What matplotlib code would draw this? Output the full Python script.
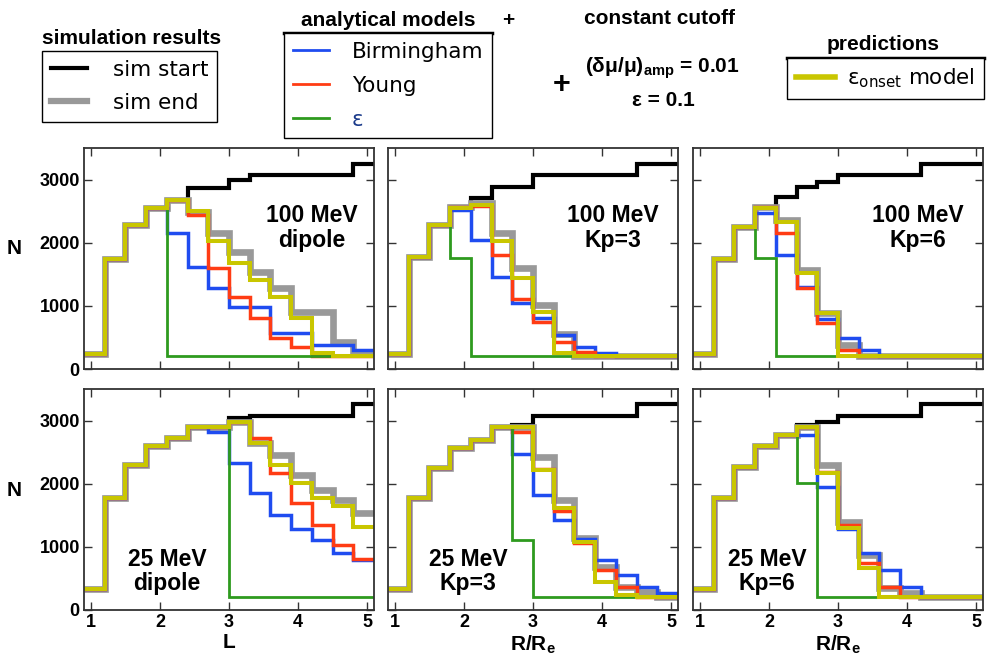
import matplotlib
matplotlib.use('Agg')
import matplotlib.pyplot as plt
from matplotlib.lines import Line2D

plt.rcParams['font.family'] = ['Liberation Sans', 'DejaVu Sans']
plt.rcParams['mathtext.fontset'] = 'custom'
plt.rcParams['mathtext.rm'] = 'DejaVu Sans'
plt.rcParams['mathtext.bf'] = 'Liberation Sans:bold'

# histogram bin edges (L or R/Re)
bin_edges = [0.9, 1.2, 1.5, 1.8, 2.1, 2.4, 2.7, 3.0, 3.3, 3.6, 3.9, 4.2, 4.5, 4.8, 5.1]

# 100 MeV dipole
start_100_dip = [230, 1750, 2280, 2550, 2680, 2870, 2870, 3000, 3080, 3080, 3080, 3080, 3080, 3250]
end_100_dip = [230, 1750, 2280, 2550, 2680, 2490, 2150, 1860, 1540, 1280, 910, 910, 430, 270]
birm_100_dip = [230, 1750, 2280, 2550, 2150, 1620, 1280, 980, 980, 565, 565, 380, 380, 300]
young_100_dip = [230, 1750, 2280, 2550, 2680, 2440, 1600, 1145, 805, 490, 350, 200, 200, 200]
eps_100_dip = [230, 1750, 2280, 2550, 200, 200, 200, 200, 200, 200, 200, 200, 200, 200]
onset_100_dip = [230, 1750, 2280, 2550, 2680, 2510, 2020, 1675, 1410, 1145, 800, 250, 200, 200]

# 100 MeV Kp=3
start_100_kp3 = [230, 1780, 2280, 2570, 2710, 2890, 2890, 3075, 3075, 3075, 3075, 3075, 3250, 3250]
end_100_kp3 = [230, 1780, 2280, 2570, 2630, 2150, 1600, 1015, 560, 200, 200, 200, 200, 200]
birm_100_kp3 = [230, 1780, 2280, 2520, 2045, 1460, 1040, 800, 540, 355, 250, 200, 200, 200]
young_100_kp3 = [230, 1780, 2280, 2570, 2580, 1805, 1110, 750, 435, 270, 200, 200, 200, 200]
eps_100_kp3 = [230, 1780, 2280, 1755, 200, 200, 200, 200, 200, 200, 200, 200, 200, 200]
onset_100_kp3 = [230, 1780, 2280, 2550, 2600, 2020, 1435, 910, 250, 200, 200, 200, 200, 200]

# 100 MeV Kp=6
start_100_kp6 = [230, 1750, 2255, 2570, 2730, 2890, 2965, 3075, 3075, 3075, 3075, 3250, 3250, 3250]
end_100_kp6 = [230, 1750, 2255, 2570, 2360, 1570, 880, 380, 200, 200, 200, 200, 200, 200]
birm_100_kp6 = [230, 1750, 2255, 2465, 1805, 1305, 790, 485, 300, 200, 200, 200, 200, 200]
young_100_kp6 = [230, 1750, 2255, 2570, 2150, 1280, 725, 300, 200, 200, 200, 200, 200, 200]
eps_100_kp6 = [230, 1750, 2255, 1755, 200, 200, 200, 200, 200, 200, 200, 200, 200, 200]
onset_100_kp6 = [230, 1750, 2255, 2545, 2335, 1515, 880, 200, 200, 200, 200, 200, 200, 200]

# 25 MeV dipole
start_25_dip = [340, 1770, 2300, 2590, 2720, 2905, 2905, 3035, 3075, 3075, 3075, 3075, 3075, 3260]
end_25_dip = [340, 1770, 2300, 2590, 2720, 2905, 2905, 2985, 2640, 2455, 2140, 1900, 1740, 1530]
birm_25_dip = [340, 1770, 2300, 2590, 2720, 2905, 2815, 2325, 1850, 1505, 1285, 1110, 900, 790]
young_25_dip = [340, 1770, 2300, 2590, 2720, 2905, 2905, 2985, 2720, 2165, 1690, 1345, 1030, 810]
eps_25_dip = [340, 1770, 2300, 2590, 2720, 2905, 2905, 210, 210, 210, 210, 210, 210, 210]
onset_25_dip = [340, 1770, 2300, 2590, 2720, 2905, 2905, 2985, 2640, 2300, 2005, 1770, 1640, 1320]

# 25 MeV Kp=3
start_25_kp3 = [340, 1770, 2245, 2560, 2695, 2905, 2930, 3080, 3080, 3080, 3080, 3080, 3265, 3265]
end_25_kp3 = [340, 1770, 2245, 2560, 2695, 2905, 2905, 2430, 1740, 1135, 685, 370, 290, 210]
birm_25_kp3 = [340, 1770, 2245, 2560, 2695, 2905, 2470, 1820, 1425, 1120, 790, 555, 370, 265]
young_25_kp3 = [340, 1770, 2245, 2560, 2695, 2905, 2825, 2230, 1560, 1055, 635, 370, 210, 210]
eps_25_kp3 = [340, 1770, 2245, 2560, 2695, 2905, 1110, 210, 210, 210, 210, 210, 210, 210]
onset_25_kp3 = [340, 1770, 2245, 2560, 2695, 2905, 2905, 2220, 1610, 1080, 450, 240, 210, 210]

# 25 MeV Kp=6
start_25_kp6 = [340, 1770, 2270, 2590, 2770, 2930, 2975, 3080, 3080, 3080, 3080, 3265, 3265, 3265]
end_25_kp6 = [340, 1770, 2270, 2590, 2770, 2905, 2300, 1400, 870, 345, 265, 210, 210, 210]
birm_25_kp6 = [340, 1770, 2270, 2590, 2770, 2770, 1955, 1285, 900, 635, 370, 210, 210, 210]
young_25_kp6 = [340, 1770, 2270, 2590, 2770, 2905, 2180, 1350, 740, 370, 210, 210, 210, 210]
eps_25_kp6 = [340, 1770, 2270, 2590, 2770, 2005, 210, 210, 210, 210, 210, 210, 210, 210]
onset_25_kp6 = [340, 1770, 2270, 2590, 2770, 2905, 2165, 1295, 660, 210, 210, 210, 210, 210]

panel_labels = ['100 MeV\ndipole', '100 MeV\nKp=3', '100 MeV\nKp=6',
                '25 MeV\ndipole', '25 MeV\nKp=3', '25 MeV\nKp=6']
x_labels = ['L', r'$\mathbf{R/R_e}$', r'$\mathbf{R/R_e}$']

panels = [
    (start_100_dip, end_100_dip, birm_100_dip, young_100_dip, eps_100_dip, onset_100_dip),
    (start_100_kp3, end_100_kp3, birm_100_kp3, young_100_kp3, eps_100_kp3, onset_100_kp3),
    (start_100_kp6, end_100_kp6, birm_100_kp6, young_100_kp6, eps_100_kp6, onset_100_kp6),
    (start_25_dip, end_25_dip, birm_25_dip, young_25_dip, eps_25_dip, onset_25_dip),
    (start_25_kp3, end_25_kp3, birm_25_kp3, young_25_kp3, eps_25_kp3, onset_25_kp3),
    (start_25_kp6, end_25_kp6, birm_25_kp6, young_25_kp6, eps_25_kp6, onset_25_kp6),
]

# color, linewidth for start, end, Birmingham, Young, eps, eps_onset
styles = [('black', 3.0), ('#999999', 4.8), ('#1f4cf0', 2.5),
          ('#ff3c14', 2.5), ('#2e9a1e', 2.0), ('#c9c600', 2.9)]

W, H = 989, 660
fig = plt.figure(figsize=(W / 100, H / 100), dpi=100)

col_left = [84, 388, 693]
row_top = [148, 389]
ax_w, ax_h = 290, 221
text_x = [0.786, 0.776, 0.776, 0.286, 0.276, 0.255]
text_y = [0.638, 0.638, 0.638, 0.174, 0.174, 0.174]

for idx, series in enumerate(panels):
    r, c = divmod(idx, 3)
    ax = fig.add_axes([col_left[c] / W, 1 - (row_top[r] + ax_h) / H, ax_w / W, ax_h / H])
    for vals, (col, lw) in zip(series, styles):
        ax.stairs(vals, bin_edges, baseline=None, color=col, linewidth=lw)
    ax.set_xlim(0.9, 5.1)
    ax.set_ylim(0, 3500)
    ax.set_xticks([1, 2, 3, 4, 5])
    ax.set_yticks([0, 1000, 2000, 3000])
    ax.tick_params(direction='in', top=True, right=True, length=6, width=1,
                   labelsize=13, pad=3, color='#333333')
    for lab in ax.get_xticklabels() + ax.get_yticklabels():
        lab.set_fontweight('bold')
    for sp in ax.spines.values():
        sp.set_linewidth(1.3)
        sp.set_color('#333333')
    if c != 0:
        ax.set_yticklabels([])
    else:
        ax.set_ylabel('N', rotation=0, fontsize=15, fontweight='bold')
        ax.yaxis.set_label_coords(-0.24, 0.5)
    if r == 0:
        ax.set_xticklabels([])
    else:
        ax.set_xlabel(x_labels[c], fontsize=15, fontweight='bold')
        ax.xaxis.set_label_coords(0.5, -0.105)
    ax.text(text_x[idx], text_y[idx], panel_labels[idx], transform=ax.transAxes,
            ha='center', va='center', fontsize=16.5, fontweight='bold', linespacing=1.1)

leg_prop = dict(family='DejaVu Sans', weight='normal', size=15.5)


def make_legend(handles, labels, x, y, spacing=0.5, hlen=1.7, hpad=1.2):
    leg = fig.legend(handles, labels, loc='upper left', bbox_to_anchor=(x / W, 1 - y / H),
                     borderaxespad=0, prop=leg_prop, handlelength=hlen, handletextpad=hpad,
                     labelspacing=spacing, frameon=True, fancybox=False, edgecolor='black',
                     framealpha=1, borderpad=0.4)
    leg.get_frame().set_linewidth(1.0)
    return leg


leg1 = make_legend([Line2D([], [], color='black', lw=3),
                    Line2D([], [], color='#999999', lw=4.5)],
                   ['sim start', 'sim end'], 42, 51, spacing=0.62)
leg2 = make_legend([Line2D([], [], color='#1f4cf0', lw=2),
                    Line2D([], [], color='#ff3c14', lw=2),
                    Line2D([], [], color='#2e9a1e', lw=2)],
                   ['Birmingham', 'Young', 'ε'], 284, 33, spacing=0.65, hpad=1.05)
leg2.get_texts()[2].set_color('#1a3a8a')
leg3 = make_legend([Line2D([], [], color='#c9c600', lw=4)],
                   [r'ε$_{\mathrm{onset}}$ model'], 787, 58, hlen=1.85, hpad=0.55)

bold = dict(ha='center', va='center', fontsize=15, fontweight='bold')
fig.text(132 / W, 1 - 38 / H, 'simulation results', **bold)
fig.text(388 / W, 1 - 21 / H, 'analytical models', **bold)
fig.text(508 / W, 1 - 21 / H, '+', **bold)
fig.text(659 / W, 1 - 18 / H, 'constant cutoff', **bold)
fig.text(562 / W, 1 - 85 / H, '+', ha='center', va='center', fontsize=22, fontweight='bold')
fig.text(662 / W, 1 - 68 / H, r'(δμ/μ)$_{\mathbf{amp}}$ = 0.01', **bold)
fig.text(663 / W, 1 - 100 / H, 'ε = 0.1', **bold)
fig.text(883 / W, 1 - 45 / H, 'predictions', **bold)

# thick top border on the model/prediction legend boxes
fig.canvas.draw()
for leg in (leg2, leg3):
    bb = leg.get_frame().get_window_extent().transformed(fig.transFigure.inverted())
    fig.add_artist(Line2D([bb.x0, bb.x1], [bb.y1, bb.y1], transform=fig.transFigure,
                          color='black', lw=2.5))

fig.savefig('out.png', dpi=100)
